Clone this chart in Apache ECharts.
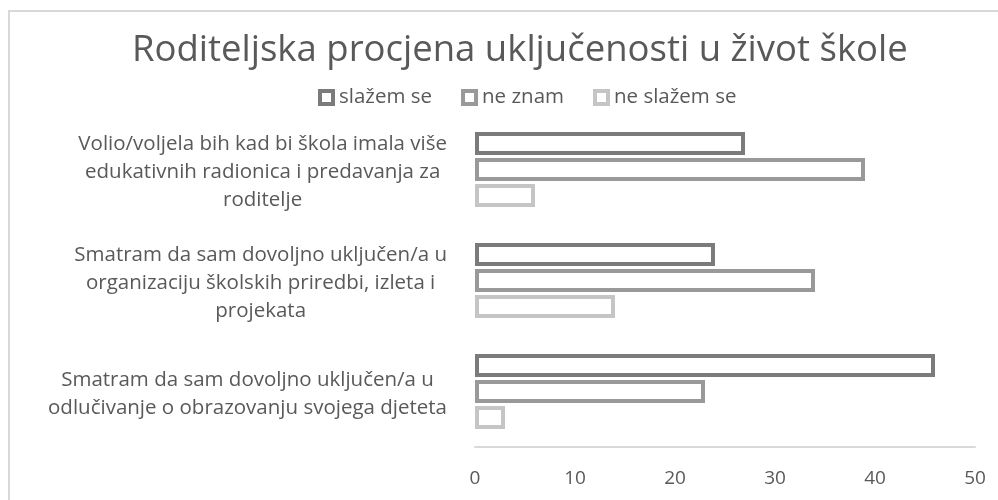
<!DOCTYPE html>
<html>
<head>
<meta charset="utf-8">
<script src="https://cdn.jsdelivr.net/npm/echarts@6/dist/echarts.min.js"></script>
<style>
  html, body { margin: 0; padding: 0; background: #fff; overflow: hidden; }
  #chart { width: 998px; height: 500px; }
</style>
</head>
<body>
<div id="chart"></div>
<script>
const titleText = 'Roditeljska procjena uključenosti u život škole'

// top to bottom, as in the picture
const categories = [
  'Volio/voljela bih kad bi škola imala više\nedukativnih radionica i predavanja za\nroditelje',
  'Smatram da sam dovoljno uključen/a u\norganizaciju školskih priredbi, izleta i\nprojekata',
  'Smatram da sam dovoljno uključen/a u\nodlučivanje o obrazovanju svojega djeteta',
]

const seriesNames = ['slažem se', 'ne znam', 'ne slažem se']
const seriesColors = ['#7b7b7b', '#999999', '#c5c5c5']

const slazemSe = [27, 24, 46]
const neZnam = [39, 34, 23]
const neSlazemSe = [6, 14, 3]
const seriesValues = [slazemSe, neZnam, neSlazemSe]

const xTicks = [0, 10, 20, 30, 40, 50]

const textColor = '#595959'
const fontFamily = '"Open Sans", "Noto Sans", sans-serif'

const chart = echarts.init(document.getElementById('chart'))

const option = {
  backgroundColor: '#fff',
  animation: false,
  textStyle: { fontFamily: fontFamily },
  graphic: [
    {
      type: 'rect',
      shape: { x: 9, y: 11, width: 1200, height: 800 },
      style: { fill: 'none', stroke: '#d9d9d9', lineWidth: 2 },
      silent: true,
    },
  ],
  title: {
    text: titleText,
    left: 127,
    top: 27,
    textStyle: {
      color: textColor,
      fontSize: 36.5,
      fontWeight: 'normal',
      fontFamily: fontFamily,
    },
  },
  legend: {
    left: 313,
    top: 82,
    itemWidth: 13,
    itemHeight: 13,
    itemGap: 29,
    icon: 'rect',
    textStyle: { color: textColor, fontSize: 20.5, fontFamily: fontFamily, padding: [0, 0, 0, 1] },
    data: seriesNames.map((name, i) => ({
      name: name,
      itemStyle: { color: '#fff', borderColor: seriesColors[i], borderWidth: 4 },
    })),
  },
  grid: {
    left: 475,
    right: 23,
    top: 114,
    bottom: 53,
    containLabel: false,
  },
  xAxis: {
    type: 'value',
    min: xTicks[0],
    max: xTicks[xTicks.length - 1],
    interval: 10,
    splitLine: { show: false },
    axisLine: { show: true, onZero: false, lineStyle: { color: '#d9d9d9', width: 2 } },
    axisTick: { show: false },
    axisLabel: {
      color: textColor,
      fontSize: 19,
      margin: 22,
      fontFamily: fontFamily,
    },
  },
  yAxis: {
    type: 'category',
    inverse: true,
    data: categories,
    axisLine: { show: false },
    axisTick: { show: false },
    splitLine: { show: false },
    axisLabel: {
      margin: 28,
      align: 'right',
      padding: [6, 0, 0, 0],
      formatter: (v) => v.split('\n').map((l) => '{c|' + l + '}').join('\n'),
      rich: {
        c: {
          align: 'center',
          color: textColor,
          fontSize: 20.5,
          lineHeight: 28,
          fontFamily: fontFamily,
        },
      },
    },
  },
  series: seriesNames.map((name, i) => ({
    name: name,
    type: 'bar',
    data: seriesValues[i],
    barWidth: 23,
    barGap: '13%',
    itemStyle: {
      color: '#fff',
      borderColor: seriesColors[i],
      borderWidth: 4,
    },
  })),
}

chart.setOption(option)
</script>
</body>
</html>
